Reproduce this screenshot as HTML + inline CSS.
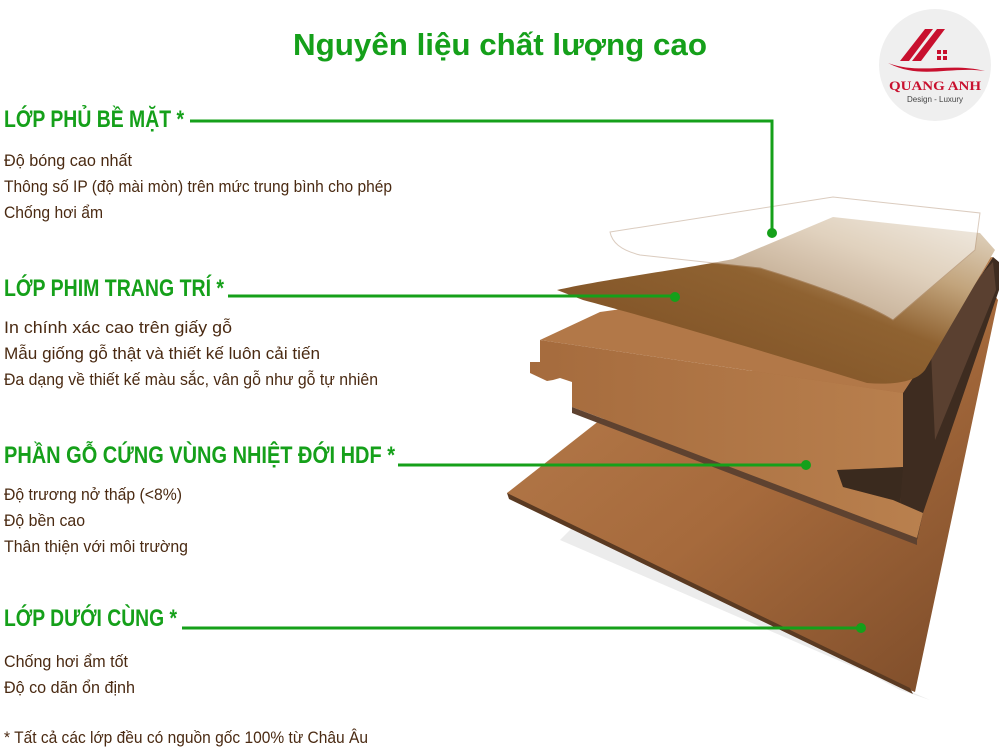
<!DOCTYPE html>
<html><head><meta charset="utf-8"><style>
html,body{margin:0;padding:0;background:#fff;}
svg{display:block}
.h{font-family:"Liberation Sans",sans-serif;font-weight:bold;fill:#15a01a;}
.b{font-family:"Liberation Sans",sans-serif;fill:#4a2a12;font-size:17px;}
</style></head><body>
<svg width="1000" height="750" viewBox="0 0 1000 750" xmlns="http://www.w3.org/2000/svg">
<defs>
<linearGradient id="gb" x1="0" y1="0" x2="1" y2="1">
<stop offset="0" stop-color="#b77d4d"/><stop offset="0.5" stop-color="#a66a3c"/><stop offset="1" stop-color="#7a4a28"/></linearGradient>
<linearGradient id="gh" x1="0" y1="0" x2="1" y2="0">
<stop offset="0" stop-color="#a56b3d"/><stop offset="1" stop-color="#b9804e"/></linearGradient>
<linearGradient id="gf" x1="0" y1="1" x2="1" y2="0">
<stop offset="0" stop-color="#7a4c22"/><stop offset="0.55" stop-color="#8f6231"/><stop offset="0.75" stop-color="#c2a47c"/><stop offset="1" stop-color="#e6dccd"/></linearGradient>
</defs>
<rect width="1000" height="750" fill="#fff"/>
<!-- shadow -->
<polygon points="580,520 900,690 930,700 560,540" fill="#ececec"/>
<!-- bottom sheet -->
<polygon points="507,493 600,420 993,293 998,300 915,692 910,690 510,498" fill="url(#gb)"/>
<polygon points="507,493 910,688 913,694 509,499" fill="#5a3a22"/>
<!-- dark side of hdf -->
<polygon points="903,393 993,257 999,262 999,290 923,513 917,540 900,505" fill="#3e2c20"/>
<polygon points="930,330 993,262 996,290 935,440" fill="#5a4030"/>
<!-- HDF board -->
<polygon points="540,340 600,312 993,257 903,393" fill="#b27848"/>
<polygon points="540,340 903,393 903,467 837,470 843,487 893,500 923,513 917,538 572,407 572,382 560,378 553,380 547,381 530,373 530,362 540,362" fill="url(#gh)"/>
<polygon points="572,407 917,538 917,545 572,413" fill="#5e4230"/>
<polygon points="837,470 903,467 900,503 893,500 843,487" fill="#3a2a1e"/>
<!-- decorative film -->
<path d="M557,290 C600,280 690,268 733,259 L833,217 L980,233 L995,250 L925,370 C915,383 890,385 867,383 C760,350 640,315 583,300 Z" fill="url(#gf)"/>
<!-- overlay -->
<path d="M610,232 L833,197 L980,213 L975,250 L893,320 C860,300 800,280 760,268 L640,255 C620,250 612,242 610,232 Z" fill="#fff" opacity="0.5" stroke="#b89a80" stroke-width="1"/>
<!-- logo -->
<circle cx="935" cy="65" r="56" fill="#efefef"/>
<polygon points="900,61 925,29 933,29 909,61" fill="#c8102e"/>
<polygon points="912,61 937,29 945,29 921,61" fill="#c8102e"/>
<rect x="937" y="50" width="4" height="4" fill="#c8102e"/><rect x="943" y="50" width="4" height="4" fill="#c8102e"/>
<rect x="937" y="56" width="4" height="4" fill="#c8102e"/><rect x="943" y="56" width="4" height="4" fill="#c8102e"/>
<path d="M888,63 C920,75 950,62 985,71 C950,66 920,80 888,63 Z" fill="#c8102e"/>
<text x="935" y="90" text-anchor="middle" font-family="Liberation Serif,serif" font-weight="bold" font-size="13" fill="#c8102e" textLength="92" lengthAdjust="spacingAndGlyphs">QUANG ANH</text>
<text x="935" y="102" text-anchor="middle" font-family="Liberation Sans,sans-serif" font-size="8" fill="#444">Design - Luxury</text>
<!-- title -->
<text x="500" y="55" text-anchor="middle" class="h" font-size="31" textLength="414" lengthAdjust="spacingAndGlyphs">Nguyên liệu  chất lượng cao</text>
<!-- lines -->
<g stroke="#15a01a" stroke-width="3" fill="none">
<polyline points="190,121 772,121 772,233"/>
<line x1="228" y1="296" x2="676" y2="296"/>
<line x1="398" y1="465" x2="806" y2="465"/>
<line x1="182" y1="628" x2="862" y2="628"/>
</g>
<g fill="#15a01a">
<circle cx="772" cy="233" r="5"/><circle cx="675" cy="297" r="5"/><circle cx="806" cy="465" r="5"/><circle cx="861" cy="628" r="5"/>
</g>
<!-- headings -->
<text x="4" y="127" class="h" font-size="24" textLength="180" lengthAdjust="spacingAndGlyphs">LỚP PHỦ BỀ MẶT *</text>
<text x="4" y="296" class="h" font-size="24" textLength="220" lengthAdjust="spacingAndGlyphs">LỚP PHIM TRANG TRÍ *</text>
<text x="4" y="463" class="h" font-size="24" textLength="391" lengthAdjust="spacingAndGlyphs">PHẦN GỖ CỨNG VÙNG NHIỆT ĐỚI HDF *</text>
<text x="4" y="626" class="h" font-size="24" textLength="173" lengthAdjust="spacingAndGlyphs">LỚP DƯỚI CÙNG *</text>
<!-- body -->
<text x="4" y="166" class="b" textLength="128" lengthAdjust="spacingAndGlyphs">Độ bóng cao nhất</text>
<text x="4" y="192" class="b" textLength="388" lengthAdjust="spacingAndGlyphs">Thông số IP (độ mài mòn) trên mức trung bình cho phép</text>
<text x="4" y="218" class="b" textLength="99" lengthAdjust="spacingAndGlyphs">Chống hơi ẩm</text>
<text x="4" y="333" class="b" textLength="228" lengthAdjust="spacingAndGlyphs">In chính xác cao trên giấy gỗ</text>
<text x="4" y="359" class="b" textLength="316" lengthAdjust="spacingAndGlyphs">Mẫu giống gỗ thật và thiết kế luôn cải tiến</text>
<text x="4" y="385" class="b" textLength="374" lengthAdjust="spacingAndGlyphs">Đa dạng về thiết kế màu sắc, vân gỗ như gỗ tự nhiên</text>
<text x="4" y="500" class="b" textLength="178" lengthAdjust="spacingAndGlyphs">Độ trương nở thấp (&lt;8%)</text>
<text x="4" y="526" class="b" textLength="81" lengthAdjust="spacingAndGlyphs">Độ bền cao</text>
<text x="4" y="552" class="b" textLength="184" lengthAdjust="spacingAndGlyphs">Thân thiện với môi trường</text>
<text x="4" y="667" class="b" textLength="124" lengthAdjust="spacingAndGlyphs">Chống hơi ẩm tốt</text>
<text x="4" y="693" class="b" textLength="131" lengthAdjust="spacingAndGlyphs">Độ co dãn ổn định</text>
<text x="4" y="743" class="b" textLength="364" lengthAdjust="spacingAndGlyphs">* Tất cả các lớp đều có nguồn gốc 100% từ Châu Âu</text>
</svg>
</body></html>
